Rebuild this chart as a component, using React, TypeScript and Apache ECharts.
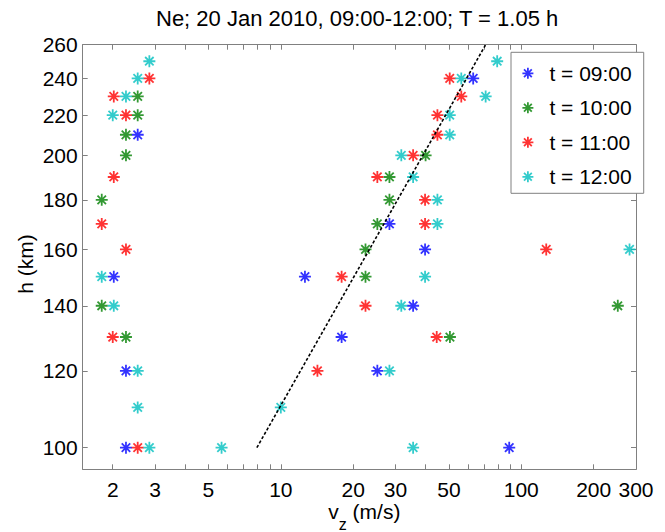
import React, { useEffect, useRef } from "react";
import * as echarts from "echarts";

const TITLE = "Ne; 20 Jan 2010, 09:00-12:00; T = 1.05 h";
const SERIES_NAMES = ["t = 09:00", "t = 10:00", "t = 11:00", "t = 12:00"];
const COLORS = ["#0000ff", "#008000", "#ff0000", "#00bfbf"];

// vz (m/s) and h (km) for each time
const v09 = [2.54, 63.1, 28.3, 39.8, 2.02, 12.6, 35.5, 17.9, 2.27, 25.2, 2.27, 89.1];
const h09 = [210, 240, 170, 160, 150, 150, 140, 130, 120, 120, 100, 100];

const v10 = [2.54, 2.54, 2.27, 2.27, 1.8, 1.8, 2.27, 40.0, 28.3, 28.3, 25.2, 22.5, 22.5, 252, 50.5];
const h10 = [230, 220, 210, 200, 180, 140, 130, 200, 190, 180, 170, 160, 150, 140, 130];

const v11 = [2.84, 2.02, 2.27, 2.02, 1.8, 2.27, 2.0, 2.54, 50.4, 56.3, 44.8, 44.8, 35.5, 25.2, 39.8, 39.8, 127, 17.9, 22.5, 44.5, 14.2];
const h11 = [240, 230, 220, 190, 170, 160, 130, 100, 240, 230, 220, 210, 200, 190, 180, 170, 160, 150, 140, 130, 120];

const v12 = [2.84, 2.54, 2.27, 2.0, 1.8, 2.02, 2.54, 2.54, 2.84, 5.67, 10.0, 79.4, 56.3, 71.1, 50.4, 50.4, 31.7, 35.5, 44.8, 44.8, 282, 39.8, 31.7, 28.3, 35.5];
const h12 = [250, 240, 230, 220, 150, 140, 120, 110, 100, 100, 110, 250, 240, 230, 220, 210, 200, 190, 180, 170, 160, 150, 140, 120, 100];

// fitted dashed line (end points)
const fitV = [7.95, 71.1];
const fitH = [100, 260];

const X_MIN = 1.5;
const X_MAX = 300;
const Y_MIN = 95;
const Y_MAX = 260;
const X_TICKS = [2, 3, 4, 5, 6, 7, 8, 9, 10, 20, 30, 40, 50, 60, 70, 80, 90, 100, 200, 300];
const X_LABELS = [2, 3, 5, 10, 20, 30, 50, 100, 200, 300];
const Y_TICKS = [100, 120, 140, 160, 180, 200, 220, 240, 260];

const STAR = "path://M0,-10L0,10M-10,0L10,0M-7.07,-7.07L7.07,7.07M-7.07,7.07L7.07,-7.07";
const FONT = "'Liberation Sans', Arial, Helvetica, sans-serif";
const AX = "#808080";

const lg = (x: number) => Math.log10(x);
const fmt = (v: number) => String(Math.round(Math.pow(10, v)));

export default function App() {
  const ref = useRef<HTMLDivElement>(null);

  useEffect(() => {
    if (!ref.current) return;
    const chart = echarts.init(ref.current, undefined, { renderer: "svg" });

    const vs = [v09, v10, v11, v12];
    const hs = [h09, h10, h11, h12];

    const scatter = SERIES_NAMES.map((name, i) => ({
      type: "scatter",
      name,
      xAxisIndex: 0,
      yAxisIndex: 0,
      symbol: STAR,
      symbolSize: 12,
      itemStyle: { color: COLORS[i], borderColor: COLORS[i], borderWidth: 1.8 },
      data: vs[i].map((v, k) => [lg(v), lg(hs[i][k])]),
    }));

    const axisLine = { show: true, onZero: false, lineStyle: { color: AX, width: 1 } };
    const xTick = { show: true, inside: true, length: 5, customValues: X_TICKS.map(lg), lineStyle: { color: AX } };
    const yTick = { show: true, inside: true, length: 5, customValues: Y_TICKS.map(lg), lineStyle: { color: AX } };

    const option: any = {
      animation: false,
      backgroundColor: "#fff",
      title: {
        text: TITLE,
        left: 156,
        top: 7,
        padding: 0,
        textStyle: { fontSize: 22, fontWeight: "normal", color: "#000", fontFamily: FONT, lineHeight: 22 },
      },
      grid: {
        left: 82.7,
        right: 29,
        top: 44.7,
        bottom: 62.7,
        containLabel: false,
        outerBoundsMode: "none",
      },
      legend: {
        orient: "vertical",
        left: 511,
        top: 52.3,
        itemWidth: 33,
        itemHeight: 11,
        itemGap: 13.5,
        padding: [10.5, 12, 6, 10.5],
        borderColor: AX,
        borderWidth: 1,
        backgroundColor: "#fff",
        textStyle: { fontSize: 21, lineHeight: 21, color: "#000", fontFamily: FONT },
        itemStyle: { borderWidth: 1.8 },
        data: SERIES_NAMES.map((n) => ({ name: n, icon: STAR })),
      },
      xAxis: [
        {
          type: "value",
          position: "bottom",
          min: lg(X_MIN),
          max: lg(X_MAX),
          axisLine,
          axisTick: xTick,
          splitLine: { show: false },
          axisLabel: {
            customValues: X_LABELS.map(lg),
            formatter: fmt,
            margin: 10,
            fontSize: 21,
            color: "#000",
            fontFamily: FONT,
          },
          name: "{v|v}{z|z}{r| (m/s)}",
          nameLocation: "middle",
          nameGap: 32,
          nameMoveOverlap: false,
          nameTextStyle: {
            padding: [0, 0, 0, 10],
            rich: {
              v: { fontSize: 21, lineHeight: 21, color: "#000", fontFamily: FONT },
              z: { fontSize: 16, lineHeight: 14, color: "#000", fontFamily: FONT, padding: [26, 0, 0, 0] },
              r: { fontSize: 21, lineHeight: 21, color: "#000", fontFamily: FONT },
            },
          },
        },
        {
          type: "value",
          position: "top",
          min: lg(X_MIN),
          max: lg(X_MAX),
          axisLine,
          axisTick: xTick,
          splitLine: { show: false },
          axisLabel: { show: false },
        },
      ],
      yAxis: [
        {
          type: "value",
          position: "left",
          min: lg(Y_MIN),
          max: lg(Y_MAX),
          axisLine,
          axisTick: yTick,
          splitLine: { show: false },
          axisLabel: {
            customValues: Y_TICKS.map(lg),
            formatter: fmt,
            margin: 5,
            fontSize: 21,
            color: "#000",
            fontFamily: FONT,
          },
          name: "h (km)",
          nameLocation: "middle",
          nameGap: 47,
          nameMoveOverlap: false,
          nameTextStyle: { fontSize: 21, color: "#000", fontFamily: FONT, padding: [0, 14, 0, 0] },
        },
        {
          type: "value",
          position: "right",
          min: lg(Y_MIN),
          max: lg(Y_MAX),
          axisLine,
          axisTick: yTick,
          splitLine: { show: false },
          axisLabel: { show: false },
        },
      ],
      series: [
        ...scatter,
        {
          type: "line",
          name: "fit",
          xAxisIndex: 0,
          yAxisIndex: 0,
          symbol: "none",
          silent: true,
          lineStyle: { color: "#000", width: 1.6, type: [3, 2] },
          data: fitV.map((v, k) => [lg(v), lg(fitH[k])]),
        },
      ],
    };

    chart.setOption(option);
    return () => chart.dispose();
  }, []);

  return (
    <div
      ref={ref}
      style={{ position: "fixed", left: 0, top: 0, width: 665, height: 532, background: "#fff" }}
    />
  );
}
